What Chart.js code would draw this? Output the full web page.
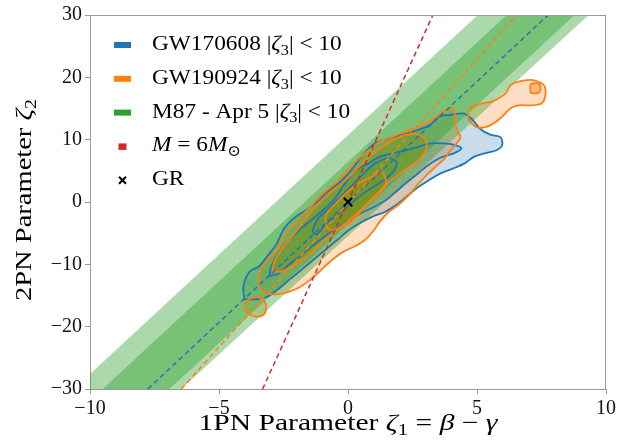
<!DOCTYPE html>
<html>
<head>
<meta charset="utf-8">
<script src="https://cdn.jsdelivr.net/npm/chart.js@4.4.0/dist/chart.umd.min.js"></script>
<style>
  html, body { margin: 0; padding: 0; background: #fff; }
  canvas { display: block; }
</style>
</head>
<body>
<canvas id="chart" width="619" height="443"></canvas>
<script>
// --- axis ranges ---
const xRange = [-10, 10];
const yRange = [-30, 30];
const xStep = 5;
const yStep = 10;

// --- M87 (Apr 5) band, corners [zeta1, zeta2] ---
const m87Outer = [[-10.63, -30], [-6.46, -30], [9.33, 30], [5.03, 30]];
const m87Inner = [[-9.51, -30], [-6.92, -30], [8.79, 30], [6.15, 30]];

// --- dashed reference lines ---
const lineGW170608 = [[-7.76, -30], [7.76, 30]];
const lineGW190924 = [[-6.46, -30], [6.54, 30]];
const lineM6 = [[-3.31, -30], [3.29, 30]];

// --- GW170608 contours (outer -> inner) ---
const gw170608Outer = [[-4.02,-15.6],[-4.05,-13.5],[-3.82,-11.2],[-3.44,-10.3],[-3.13,-8.7],[-2.78,-6.8],[-2.47,-4.2],[-2.01,-2.3],[-1.51,-1.0],[-1.12,0.3],[-0.81,1.6],[-0.42,2.8],[-0.04,4.3],[0.27,5.9],[0.62,7.8],[1.04,9.4],[1.58,10.2],[2.16,10.8],[2.74,11.6],[3.20,12.4],[3.51,13.7],[3.98,14.0],[4.48,14.2],[4.83,13.2],[5.10,11.8],[5.52,10.8],[5.91,10.4],[5.98,9.2],[5.75,8.3],[5.29,7.8],[4.86,7.2],[4.52,6.2],[4.09,5.4],[3.59,4.6],[3.13,3.5],[2.66,2.2],[2.28,0.9],[1.89,-0.4],[1.43,-1.6],[0.97,-2.3],[0.50,-3.3],[0.04,-4.5],[-0.42,-6.1],[-0.89,-7.7],[-1.35,-9.3],[-1.81,-10.9],[-2.28,-12.5],[-2.74,-14.1],[-3.13,-15.2],[-3.51,-15.6]];
const gw170608Mid = [[-3.05,-11.9],[-2.97,-10.3],[-2.66,-8.0],[-2.28,-6.1],[-1.89,-4.5],[-1.43,-2.9],[-0.97,-1.3],[-0.50,0.6],[-0.08,3.2],[0.31,5.1],[0.81,6.2],[1.20,7.2],[1.70,7.8],[2.24,8.3],[2.74,8.9],[3.20,9.4],[3.71,9.4],[4.09,9.2],[4.40,8.6],[4.09,7.8],[3.71,7.3],[3.40,6.7],[3.01,5.6],[2.63,4.3],[2.24,3.0],[1.85,1.6],[1.47,0.3],[1.00,-0.8],[0.50,-1.8],[0.04,-2.9],[-0.42,-4.2],[-0.93,-5.6],[-1.43,-7.2],[-1.89,-8.8],[-2.36,-10.3],[-2.74,-11.6]];
const gw170608Inner = [[-1.39,-4.8],[-1.20,-2.9],[-0.81,-1.3],[-0.35,0.6],[0.12,2.5],[0.50,4.1],[0.89,5.7],[1.27,6.7],[1.66,7.0],[1.89,6.2],[1.74,4.8],[1.39,3.5],[0.97,2.4],[0.50,1.1],[0.04,-0.5],[-0.42,-2.1],[-0.89,-3.7],[-1.20,-5.2]];

// --- GW190924 contours ---
const gw190924Outer = [[-3.36,-14.3],[-3.47,-12.4],[-3.36,-10.6],[-3.05,-9.0],[-2.70,-7.2],[-2.43,-5.2],[-2.12,-3.7],[-1.81,-2.3],[-1.43,-0.7],[-1.12,0.8],[-0.73,2.2],[-0.35,3.6],[0.04,5.4],[0.42,7.0],[0.81,8.3],[1.20,9.6],[1.74,10.5],[2.36,11.5],[2.90,12.4],[3.40,13.6],[3.75,14.7],[4.02,15.2],[4.13,14.4],[4.17,12.4],[4.25,11.3],[4.36,10.4],[4.21,9.4],[3.98,8.3],[3.75,7.0],[3.40,5.7],[3.05,4.3],[2.74,3.0],[2.36,1.1],[1.97,-0.4],[1.58,-1.6],[1.24,-3.1],[0.97,-4.7],[0.66,-6.1],[0.27,-7.1],[-0.19,-8.0],[-0.62,-9.3],[-1.04,-10.9],[-1.47,-12.5],[-1.93,-13.8],[-2.47,-14.6],[-2.97,-14.8]];
const gw190924Tail = [[-3.90,-15.7],[-3.59,-15.2],[-3.28,-15.7],[-3.17,-17.0],[-3.28,-18.1],[-3.59,-18.4],[-3.90,-17.8],[-4.02,-16.7]];
const gw190924Lobe = [[4.67,14.4],[4.79,15.2],[5.17,15.8],[5.56,16.1],[5.83,16.6],[6.14,17.6],[6.29,18.7],[6.60,19.3],[7.10,19.6],[7.49,19.1],[7.64,18.4],[7.64,16.8],[7.49,15.8],[7.10,15.5],[6.60,15.5],[6.29,15.0],[5.95,13.6],[5.64,12.6],[5.33,12.0],[4.98,12.0],[4.79,12.6],[4.67,13.4]];
const gw190924LobeCore = [[7.10,19.0],[7.38,19.0],[7.45,18.7],[7.45,17.9],[7.38,17.5],[7.10,17.5],[7.07,17.9],[7.07,18.7]];
const gw190924Mid = [[-2.93,-10.9],[-2.86,-9.6],[-2.59,-7.7],[-2.28,-6.1],[-1.97,-4.5],[-1.62,-2.6],[-1.31,-1.0],[-0.93,0.6],[-0.54,2.0],[-0.15,3.3],[0.23,4.8],[0.54,6.2],[0.93,7.6],[1.31,8.8],[1.78,10.0],[2.28,10.8],[2.74,10.8],[3.01,9.9],[3.01,8.3],[2.74,6.7],[2.36,5.6],[1.97,4.4],[1.58,3.2],[1.20,1.6],[0.81,0.0],[0.42,-1.6],[0.04,-2.9],[-0.35,-4.2],[-0.73,-5.4],[-1.12,-6.9],[-1.51,-8.4],[-1.89,-9.6],[-2.28,-10.6],[-2.66,-11.2]];
const gw190924Inner = [[1.39,4.6],[1.47,3.0],[1.20,1.4],[0.69,-0.5],[0.31,-2.4],[-0.08,-3.7],[-0.62,-4.5],[-0.85,-3.7],[-0.81,-1.8],[-0.46,-0.2],[-0.08,1.4],[0.42,3.0],[0.89,4.0],[1.20,4.8]];

// --- GR point ---
const grPoint = [[0, 0]];

// --- colours ---
const BLUE = '#1f77b4', ORANGE = '#ff7f0e', GREEN = '#2ca02c', RED = '#d62728';
const SERIF = '"Liberation Serif", "DejaVu Serif", serif';
Chart.defaults.font.family = SERIF;

const pts = arr => arr.map(([x, y]) => ({ x, y }));
const closed = arr => pts(arr.concat([arr[0]]));

// filled region without outline
function patch(arr, fill, tension) {
    return { data: closed(arr), fill: 'shape', backgroundColor: fill, borderWidth: 0, borderColor: 'rgba(0,0,0,0)', pointRadius: 0, tension: tension };
}
// contour outline without fill
function outline(arr, color) {
    return { data: closed(arr), fill: false, borderColor: color, borderWidth: 1.8, borderJoinStyle: 'round', pointRadius: 0, tension: 0.3 };
}
function dashed(arr, color) {
    return { data: pts(arr), fill: false, borderColor: color, borderWidth: 1.5, borderDash: [5, 3.5], pointRadius: 0, tension: 0 };
}

const blueSet = [gw170608Outer, gw170608Mid, gw170608Inner];
const orangeSet = [gw190924Outer, gw190924Tail, gw190924Lobe, gw190924LobeCore, gw190924Mid, gw190924Inner];

// fills first, then the M87 band over them, then contour lines and reference lines
const layers = [
    patch(gw170608Outer, 'rgba(31,119,180,0.25)', 0.3),
    patch(gw170608Mid, 'rgba(31,119,180,0.20)', 0.3),
    patch(gw170608Inner, 'rgba(31,119,180,0.25)', 0.3),
    patch(gw190924Outer, 'rgba(255,127,14,0.25)', 0.3),
    patch(gw190924Tail, 'rgba(255,127,14,0.25)', 0.3),
    patch(gw190924Lobe, 'rgba(255,127,14,0.25)', 0.3),
    patch(gw190924LobeCore, 'rgba(255,127,14,0.35)', 0.3),
    patch(gw190924Mid, 'rgba(255,127,14,0.55)', 0.3),
    patch(gw190924Inner, 'rgba(255,127,14,0.85)', 0.3),
    patch(m87Outer, 'rgba(44,160,44,0.40)', 0),
    patch(m87Inner, 'rgba(44,160,44,0.40)', 0)
].concat(
    blueSet.map(c => outline(c, BLUE)),
    orangeSet.map(c => outline(c, ORANGE)),
    [
        dashed(lineGW170608, BLUE),
        dashed(lineGW190924, ORANGE),
        dashed(lineM6, RED),
        { data: pts(grPoint), showLine: false, pointStyle: 'crossRot', pointRadius: 6, pointBorderWidth: 2, pointBorderColor: '#000', pointBackgroundColor: '#000' }
    ]
);
// keep array order as drawing order (first = bottom)
layers.forEach((d, i) => { d.order = -i; });

// --- text helpers (mixed upright / italic / subscript) ---
function setFont(ctx, r, size) {
    ctx.font = (r.it ? 'italic ' : '') + (r.sub ? size * 0.7 : size) + 'px ' + SERIF;
}
function runWidth(ctx, runs, size) {
    let w = 0;
    for (const r of runs) { setFont(ctx, r, size); w += ctx.measureText(r.t).width; }
    return w;
}
// draws runs starting at x (or centred on x), stretched horizontally by sx
function drawRuns(ctx, runs, x, y, size, align, sx) {
    const w = runWidth(ctx, runs, size) * sx;
    ctx.save();
    ctx.translate(align === 'center' ? x - w / 2 : x, y);
    ctx.scale(sx, 1);
    ctx.textBaseline = 'alphabetic';
    ctx.textAlign = 'left';
    let cx = 0;
    for (const r of runs) {
        setFont(ctx, r, size);
        ctx.fillText(r.t, cx, r.sub ? size * 0.22 : 0);
        cx += ctx.measureText(r.t).width;
    }
    ctx.restore();
}

const zeta3 = [{ t: '|' }, { t: 'ζ', it: true }, { t: '3', sub: true }, { t: '| < 10' }];
const legendRows = [
    { mark: 'patch', color: BLUE, runs: [{ t: 'GW170608 ' }].concat(zeta3) },
    { mark: 'patch', color: ORANGE, runs: [{ t: 'GW190924 ' }].concat(zeta3) },
    { mark: 'patch', color: GREEN, runs: [{ t: 'M87 - Apr 5 ' }].concat(zeta3) },
    { mark: 'square', color: RED, runs: [{ t: 'M', it: true }, { t: ' = 6' }, { t: 'M', it: true }, { t: '⊙', sub: true }] },
    { mark: 'cross', color: '#000', runs: [{ t: 'GR' }] }
];
const xTitle = [{ t: '1PN Parameter ' }, { t: 'ζ', it: true }, { t: '1', sub: true }, { t: ' = ' }, { t: 'β', it: true }, { t: ' − ' }, { t: 'γ', it: true }];
const yTitle = [{ t: '2PN Parameter ' }, { t: 'ζ', it: true }, { t: '2', sub: true }];

const decorPlugin = {
    id: 'decor',
    afterDraw(chart) {
        const ctx = chart.ctx, a = chart.chartArea;
        ctx.save();
        // top and right spines
        ctx.strokeStyle = '#999';
        ctx.lineWidth = 1;
        ctx.beginPath();
        ctx.moveTo(a.left, a.top + 0.5); ctx.lineTo(a.right, a.top + 0.5);
        ctx.moveTo(a.right - 0.5, a.top); ctx.lineTo(a.right - 0.5, a.bottom);
        ctx.stroke();

        // legend
        legendRows.forEach((row, i) => {
            const base = a.top + 35 + i * 33.8;
            const cy = base - 5;
            const px = a.left + 24;
            if (row.mark === 'patch') {
                ctx.fillStyle = row.color;
                ctx.fillRect(px, cy - 3, 17, 6);
            } else if (row.mark === 'square') {
                ctx.fillStyle = row.color;
                ctx.fillRect(px + 4.5, cy - 3, 8, 6.5);
            } else {
                ctx.strokeStyle = row.color;
                ctx.lineWidth = 2;
                ctx.beginPath();
                ctx.moveTo(px + 5, cy - 3.5); ctx.lineTo(px + 12, cy + 3.5);
                ctx.moveTo(px + 12, cy - 3.5); ctx.lineTo(px + 5, cy + 3.5);
                ctx.stroke();
            }
            ctx.fillStyle = '#000';
            drawRuns(ctx, row.runs, a.left + 62, base, 22, 'left', 1.06);
        });

        // axis titles (stretched to the width of the original serif lettering)
        ctx.fillStyle = '#000';
        const xs = 299 / runWidth(ctx, xTitle, 23);
        drawRuns(ctx, xTitle, (a.left + a.right) / 2, 430, 23, 'center', xs);
        const ys = 202 / runWidth(ctx, yTitle, 23);
        ctx.translate(31, (a.top + a.bottom) / 2 - 2);
        ctx.rotate(-Math.PI / 2);
        drawRuns(ctx, yTitle, 0, 0, 23, 'center', ys);
        ctx.restore();
    }
};

const minus = v => (v < 0 ? '\u2212' + Math.abs(v) : String(v));
const axisStyle = {
    type: 'linear',
    border: { display: true, color: '#999', width: 1 },
    grid: { display: true, drawOnChartArea: false, drawTicks: true, tickLength: 5, color: '#999' },
    ticks: { color: '#111', font: { family: SERIF, size: 20 }, padding: 3, callback: minus }
};

new Chart(document.getElementById('chart'), {
    type: 'line',
    data: { datasets: layers },
    options: {
        responsive: false,
        animation: false,
        devicePixelRatio: 1,
        layout: { padding: { top: 14, right: 11, left: 0, bottom: 0 } },
        plugins: { legend: { display: false }, tooltip: { enabled: false } },
        scales: {
            x: Object.assign({}, axisStyle, {
                min: xRange[0], max: xRange[1],
                ticks: Object.assign({}, axisStyle.ticks, { stepSize: xStep }),
                afterFit: s => { s.height = 54; }
            }),
            y: Object.assign({}, axisStyle, {
                min: yRange[0], max: yRange[1],
                ticks: Object.assign({}, axisStyle.ticks, { stepSize: yStep }),
                afterFit: s => { s.width = 90; }
            })
        }
    },
    plugins: [decorPlugin]
});
</script>
</body>
</html>
